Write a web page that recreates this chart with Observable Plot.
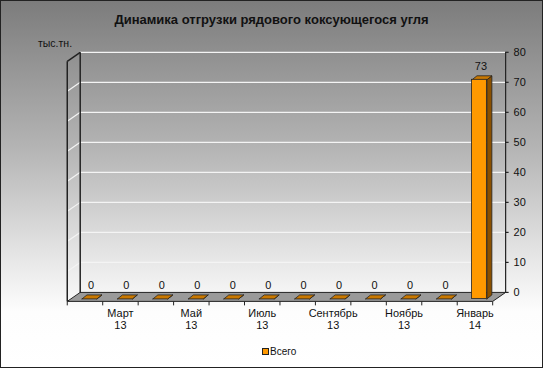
<!DOCTYPE html>
<html>
<head>
<meta charset="utf-8">
<script src="https://cdn.jsdelivr.net/npm/d3@7"></script>
<script src="https://cdn.jsdelivr.net/npm/@observablehq/plot@0.6"></script>
<style>
  body { margin: 0; }
  #chart {
    position: relative; width: 543px; height: 368px; box-sizing: border-box;
    border: 1px solid #222;
    background: linear-gradient(to bottom, #7c7c7c 0%, #b4b4b4 40%, #e6e6e6 70%, #fdfdfd 85%, #ffffff 100%);
    font-family: "Liberation Sans", Arial, sans-serif; overflow: hidden;
  }
  #title { position: absolute; left: 0; width: 541px; top: 11px; text-align: center; font-weight: bold; font-size: 13px; color: #111; }
  #unit { position: absolute; left: 37px; top: 36px; font-size: 10.5px; color: #111; }
  #legend { position: absolute; left: 261px; top: 345px; font-size: 10px; color: #111; display: flex; align-items: center; }
  #legend .sw { width: 5px; height: 5px; background: #ff9900; border: 1px solid #222; margin-right: 1px; }
  #chart svg { position: absolute; left: -1px; top: -1px; }
</style>
</head>
<body>
<div id="chart">
  <div id="title">Динамика отгрузки рядового коксующегося угля</div>
  <div id="unit">тыс.тн.</div>
  <div id="legend"><div class="sw"></div><span>Всего</span></div>
</div>
<script>
// ---- data ----
const months = ["Февраль","Март","Апрель","Май","Июнь","Июль","Август","Сентябрь","Октябрь","Ноябрь","Декабрь","Январь"];
const years  = ["13","13","13","13","13","13","13","13","13","13","13","14"];
const values = [0,0,0,0,0,0,0,0,0,0,0,73];
const yTicks = [0,10,20,30,40,50,60,70,80];
const seriesName = "Всего";

(function () {
// ---- layout (pixels) ----
const W = 543, H = 368;
const pLeft = 80, pRight = 507, pTop = 52, pBase = 293;
const n = months.length;
const kx = (pRight - pLeft) / n;          // px per x unit
const ky = (pBase - pTop) / 80;           // px per y unit
const FLOOR = [-13, 9], BF = [-8.5, 6.5], BB = [-3.5, 2.5];
const off = (x, y, o) => ({x: x + o[0] / kx, y: y - o[1] / ky});

const rows = values.map((v, i) => ({i, v, label: months[i] + "\n" + years[i]}));
const x1s = i => i + 0.29, x2s = i => i + 0.71;

const poly = [];
[{x: 0, y: 0}, {x: n, y: 0}, off(n, 0, FLOOR), off(0, 0, FLOOR), {x: 0, y: 0}].forEach(p => poly.push({id: "floor", ...p}));
const sides = [], tops = [];
rows.forEach(r => {
  const a = x1s(r.i), b = x2s(r.i);
  [off(b,0,BF), off(b,r.v,BF), off(b,r.v,BB), off(b,0,BB), off(b,0,BF)].forEach(p => sides.push({id: r.i, ...p}));
  [off(a,r.v,BF), off(b,r.v,BF), off(b,r.v,BB), off(a,r.v,BB), off(a,r.v,BF)].forEach(p => tops.push({id: r.i, ...p}));
});
const fronts = rows.filter(r => r.v > 0).map(r => {
  const p1 = off(x1s(r.i), 0, BF), p2 = off(x2s(r.i), r.v, BF);
  return {x1: p1.x, x2: p2.x, y1: p1.y, y2: p2.y};
});
const grid = yTicks.filter(t => t > 0);
const sideGrid = grid.filter(t => t < 80).map(t => ({t, ...off(0, t, FLOOR)}));
const floorY = off(0, 0, FLOOR).y;
const topY = off(0, 80, FLOOR).y;
const fx = FLOOR[0] / kx;

const font = {fontFamily: "Liberation Sans, Arial, sans-serif", fontSize: 11, fill: "#111"};

const svg = Plot.plot({
  width: W, height: H,
  marginLeft: pLeft, marginRight: W - pRight, marginTop: pTop, marginBottom: H - pBase,
  x: {type: "linear", domain: [0, n], axis: null},
  y: {domain: [0, 80], axis: null},
  style: {background: "transparent", overflow: "visible"},
  marks: [
    Plot.ruleY(grid, {x1: 0, x2: n, stroke: "#f4f4f4", strokeWidth: 1.2}),
    Plot.link(sideGrid, {x1: 0, y1: d => d.t, x2: d => d.x, y2: d => d.y, stroke: "#f4f4f4", strokeWidth: 1.2}),
    Plot.line(poly, {x: "x", y: "y", z: "id", fill: "#9a9a9a", stroke: "#222", strokeWidth: 1}),
    Plot.link([0], {x1: 0, x2: 0, y1: 0, y2: 80, stroke: "#222", strokeWidth: 1.5}),
    Plot.link([0], {x1: fx, x2: fx, y1: floorY, y2: topY, stroke: "#222", strokeWidth: 1.5}),
    Plot.link([0], {x1: 0, y1: 80, x2: fx, y2: topY, stroke: "#222", strokeWidth: 1.5}),
    Plot.link(d3.range(n + 1), {x1: d => d + fx, x2: d => d + fx, y1: floorY, y2: floorY - 4 / ky, stroke: "#222"}),
    Plot.link([0], {x1: n, x2: n, y1: 0, y2: 80, stroke: "#222", strokeWidth: 1.2}),
    Plot.ruleY(yTicks, {x1: n, x2: n + 3.5 / kx, stroke: "#222", strokeWidth: 1.2}),
    Plot.text(yTicks, {x: n, y: d => d, dx: 8, textAnchor: "start", ...font}),
    Plot.line(sides, {x: "x", y: "y", z: "id", fill: "#8a5000", stroke: "#222", strokeWidth: 0.8}),
    Plot.line(tops, {x: "x", y: "y", z: "id", fill: "#c97800", stroke: "#222", strokeWidth: 0.8}),
    Plot.rect(fronts, {x1: "x1", x2: "x2", y1: "y1", y2: "y2", fill: "#ff9900", stroke: "#222", strokeWidth: 0.8}),
    Plot.text(rows, {x: d => d.i + 0.5, y: "v", text: d => String(d.v), dx: -7, dy: -6.5, ...font}),
    Plot.text(rows.filter(r => r.i % 2 === 1), {x: d => d.i + 0.5 + fx, y: floorY, text: "label", lineAnchor: "top", dy: 6, lineHeight: 1.18, ...font})
  ]
});
document.getElementById("chart").appendChild(svg);
})();
</script>
</body>
</html>
